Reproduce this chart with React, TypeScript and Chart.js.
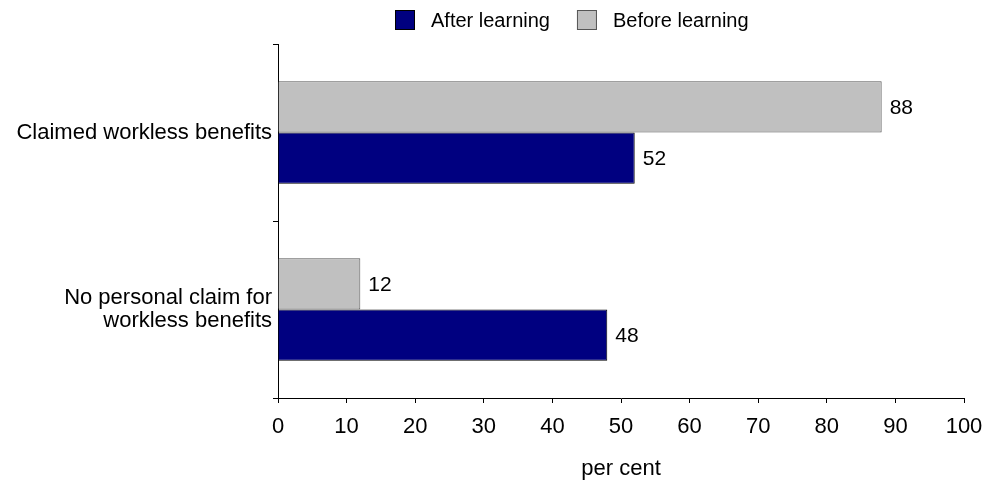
import React, { useEffect, useRef } from "react";
import { Chart, registerables } from "chart.js";

Chart.register(...registerables);

const categories: (string | string[])[] = [
  "Claimed workless benefits",
  ["No personal claim for", "workless benefits"],
];
const beforeLearning = [88, 12];
const afterLearning = [52, 48];
const xTicks = [0, 10, 20, 30, 40, 50, 60, 70, 80, 90, 100];

const FONT = "'Liberation Sans', Arial, sans-serif";
const FS = 22;
const LEGEND_FS = 20;
const VALUE_FS = 21;

const valueLabels = {
  id: "valueLabels",
  afterDatasetsDraw(chart: any) {
    const ctx = chart.ctx;
    ctx.save();
    ctx.font = `${VALUE_FS}px ${FONT}`;
    ctx.fillStyle = "#000";
    ctx.textAlign = "left";
    ctx.textBaseline = "middle";
    chart.data.datasets.forEach((ds: any, di: number) => {
      const meta = chart.getDatasetMeta(di);
      meta.data.forEach((bar: any, i: number) => {
        ctx.fillText(String(ds.data[i]), bar.x + 8, bar.y + 1);
      });
    });
    ctx.restore();
  },
};

const customLegend = {
  id: "customLegend",
  afterDraw(chart: any) {
    const ctx = chart.ctx;
    ctx.save();
    ctx.font = `${LEGEND_FS}px ${FONT}`;
    ctx.textBaseline = "middle";
    ctx.textAlign = "left";
    const items = [chart.data.datasets[1], chart.data.datasets[0]];
    let x = 395;
    const y = 20;
    items.forEach((ds: any) => {
      ctx.fillStyle = ds.backgroundColor;
      ctx.fillRect(x, y - 10, 20, 20);
      ctx.strokeStyle = ds.borderColor;
      ctx.lineWidth = 1;
      ctx.strokeRect(x + 0.5, y - 9.5, 19, 19);
      ctx.fillStyle = "#000";
      ctx.fillText(ds.label, x + 36, y + 1);
      x += 36 + ctx.measureText(ds.label).width + 27;
    });
    ctx.restore();
  },
};

export default function App() {
  const ref = useRef<HTMLCanvasElement | null>(null);
  useEffect(() => {
    document.body.style.margin = "0";
    if (!ref.current) return;
    const chart = new Chart(ref.current, {
      type: "bar",
      data: {
        labels: categories,
        datasets: [
          {
            label: "Before learning",
            data: beforeLearning,
            backgroundColor: "#C0C0C0",
            borderColor: "#555555",
            borderWidth: 1,
            categoryPercentage: 0.58,
            barPercentage: 1,
          },
          {
            label: "After learning",
            data: afterLearning,
            backgroundColor: "#000080",
            borderColor: "#000000",
            borderWidth: 1,
            categoryPercentage: 0.58,
            barPercentage: 1,
          },
        ],
      },
      options: {
        indexAxis: "y",
        animation: false,
        responsive: false,
        maintainAspectRatio: false,
        layout: { padding: { left: 0, right: 25, top: 44, bottom: 0 } },
        plugins: {
          legend: { display: false },
          tooltip: { enabled: false },
        },
        scales: {
          x: {
            min: 0,
            max: 100,
            afterBuildTicks: (s: any) => {
              s.ticks = xTicks.map((v) => ({ value: v }));
            },
            afterFit: (s: any) => {
              s.height = 84;
              s.paddingLeft = 0;
              s.paddingRight = 0;
            },
            grid: {
              drawOnChartArea: false,
              drawTicks: true,
              tickLength: 5,
              color: "#000",
            },
            border: { color: "#000", width: 1 },
            ticks: {
              color: "#000",
              font: { family: FONT, size: FS },
              padding: 11,
              maxRotation: 0,
            },
            title: {
              display: true,
              text: "per cent",
              color: "#000",
              font: { family: FONT, size: FS },
              padding: { top: 3, bottom: 0 },
            },
          },
          y: {
            type: "category",
            offset: true,
            afterFit: (s: any) => {
              s.width = 278;
              s.paddingTop = 0;
              s.paddingBottom = 0;
            },
            grid: {
              offset: true,
              drawOnChartArea: false,
              drawTicks: true,
              tickLength: 5,
              color: "#000",
            },
            border: { color: "#000", width: 1 },
            ticks: {
              color: "#000",
              font: { family: FONT, size: FS, lineHeight: 1.05 },
              padding: 1,
            },
          },
        },
      },
      plugins: [valueLabels, customLegend],
    });
    return () => chart.destroy();
  }, []);
  return (
    <div style={{ width: 989, height: 482 }}>
      <canvas ref={ref} width={989} height={482} style={{ width: 989, height: 482 }} />
    </div>
  );
}
